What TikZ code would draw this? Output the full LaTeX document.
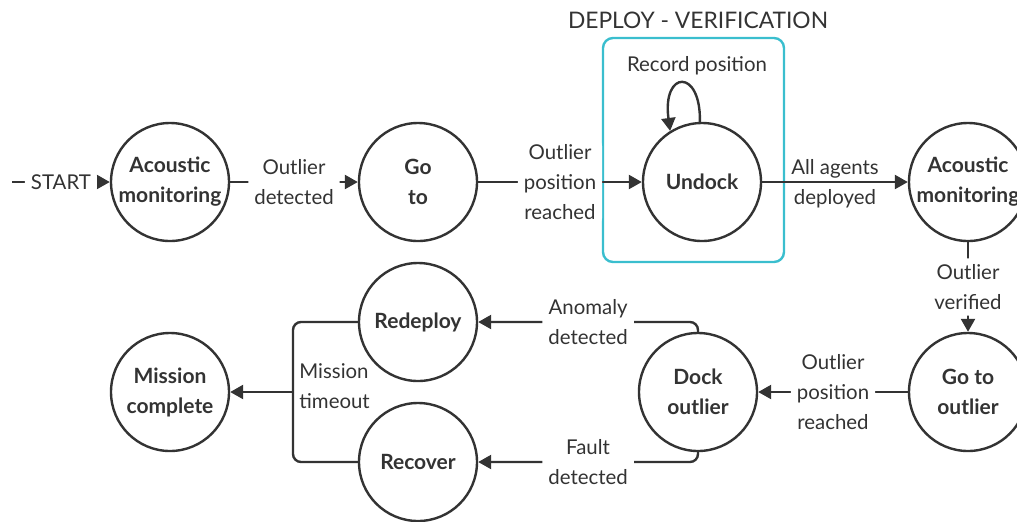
\documentclass[tikz,border=0pt]{standalone}
\usepackage{fontspec}
\setmainfont{Lato}
\usetikzlibrary{arrows.meta}
\definecolor{ink}{RGB}{51,51,51}
\definecolor{groupcyan}{RGB}{58,190,206}

\begin{document}
\begin{tikzpicture}[x=0.5pt,y=-0.5pt,
  state/.style={circle,draw=ink,line width=1.2pt,minimum size=59pt,inner sep=0pt,
    align=center,text=ink,font={\fontsize{10.5}{15}\selectfont\bfseries}},
  trans/.style={draw=ink,line width=1.2pt,rounded corners=4pt,
    -{Triangle[length=6.5pt,width=7pt]}},
  tlabel/.style={fill=white,text=ink,align=center,inner sep=3pt,
    font={\fontsize{10.2}{15}\selectfont}}]
  \useasboundingbox (0,0) rectangle (1017,521);

  % Deploy - verification group
  \draw[groupcyan,line width=1.2pt,rounded corners=5pt] (603,38) rectangle (784,262);
  \node[text=ink,font={\fontsize{11.4}{15}\selectfont}] (grp) at (698,20) {DEPLOY - VERIFICATION};

  % States
  \node[state] (acm1) at (170,182) {Acoustic\\monitoring};
  \node[state] (goto1) at (418,182) {Go\\to};
  \node[state] (undock) at (702,182) {Undock};
  \node[state] (acm2) at (968,182) {Acoustic\\monitoring};
  \node[state] (goto2) at (968,392) {Go to\\outlier};
  \node[state] (dock) at (698,392) {Dock\\outlier};
  \node[state] (redeploy) at (418,322) {Redeploy};
  \node[state] (recover) at (418,462) {Recover};
  \node[state] (mission) at (170,392) {Mission\\complete};

  % Start
  \coordinate (st) at (12,182);
  \draw[trans] (st) -- node[tlabel] {START} (acm1);

  % Top row
  \draw[trans] (acm1) -- node[tlabel] {Outlier\\detected} (goto1);
  \draw[trans] (goto1) -- node[tlabel] {Outlier\\position\\reached} (undock);
  \draw[trans] (undock) -- node[tlabel,fill=none,yshift=-1pt] {All agents\\deployed} (acm2);

  % Self loop
  \draw[trans] (undock.92) .. controls (701,68) and (662,70) .. (undock.122);
  \node[tlabel,fill=none] (rec) at (697,66) {Record position};

  % Right column and bottom row
  \draw[trans] (acm2) -- node[tlabel] {Outlier\\verified} (goto2);
  \draw[trans] (goto2) -- node[tlabel] {Outlier\\position\\reached} (dock);
  \draw[trans] (dock.north) |- node[tlabel,pos=0.75] {Anomaly\\detected} (redeploy.east);
  \draw[trans] (dock.south) |- node[tlabel,pos=0.75] {Fault\\detected} (recover.east);

  % Mission timeout
  \coordinate (mt) at (293,392);
  \draw[draw=ink,line width=1.2pt,rounded corners=4pt] (redeploy.west) -| (mt);
  \draw[draw=ink,line width=1.2pt,rounded corners=4pt] (recover.west) -| (mt);
  \draw[trans] (mt) -- (mission);
  \node[tlabel,fill=none,align=left,anchor=west,inner sep=0pt] (mtl) at (299,386) {Mission\\timeout};
\end{tikzpicture}
\end{document}
